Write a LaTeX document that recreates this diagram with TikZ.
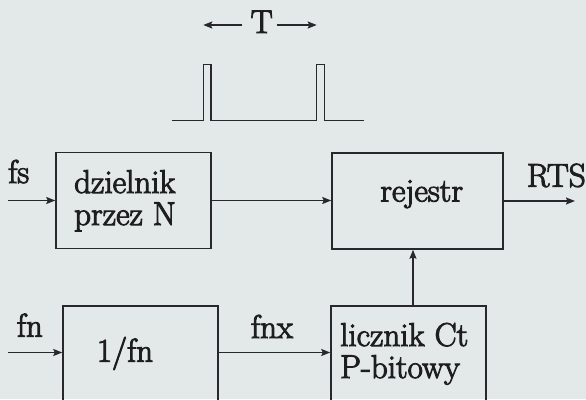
\documentclass[tikz,border=0pt]{standalone}
\usepackage{fontspec}
\setmainfont{Latin Modern Roman}[FakeBold=3]
\usetikzlibrary{arrows.meta}
\definecolor{paper}{RGB}{227,232,233}
\definecolor{ink}{RGB}{40,40,44}
\definecolor{type}{RGB}{30,30,32}

\begin{document}
\begin{tikzpicture}[x=1pt,y=-1pt,
  wire/.style={draw=ink, line width=1.5pt},
  arr/.style={wire, -{Stealth[length=9pt,width=7pt,inset=1.5pt]}},
  blk/.style={draw=ink, line width=1.5pt, rectangle, inner sep=0pt},
  txt/.style={text=type, font=\fontsize{33}{37}\selectfont, inner sep=0pt},
]
% paper and frame
\fill[paper] (0,0) rectangle (586,399);
\useasboundingbox (0,0) rectangle (586,399);
\clip (0,0) rectangle (586,399);

% pulse train with period T
\draw[wire, line join=miter] (171.7,120.7) -- (203.3,120.7) -- (203.3,64.3) -- (211,64.3)
  -- (211,120.7) -- (316.7,120.7) -- (316.7,64.3) -- (324.3,64.3) -- (324.3,120.7) -- (364,120.7);
\node[txt, anchor=base] (T) at (261.7,33) {T};
\coordinate (tl) at (203.3,25);
\coordinate (tr) at (316.7,25);
\draw[arr] (T.west |- tl) ++(-8,0) -- (tl);
\draw[arr] (T.east |- tr) ++(4,0) -- (tr);

% blocks
\node[blk, minimum width=155pt, minimum height=96pt] (dz) at (133.5,200.5) {};
\node[blk, minimum width=171pt, minimum height=96pt] (rej) at (417.5,201) {};
\node[blk, minimum width=155pt, minimum height=130pt] (inv) at (140.5,371) {};
\node[blk, minimum width=155pt, minimum height=130pt] (cnt) at (408.5,371) {};

% block texts
\node[txt, anchor=base west] (dz1) at (74,193) {dzielnik};
\node[txt, anchor=base west] (dz2) at (74,225) {przez N};
\node[txt, anchor=base] (rejt) at (421.7,201.5) {rejestr};
\node[txt, anchor=base] (invt) at (125,361.7) {1/fn};
\node[txt, anchor=base west] (cnt1) at (340,346) {licznik Ct};
\node[txt, anchor=base west] (cnt2) at (340,378) {P-bitowy};

% signals
\coordinate (fsin) at (8,200.5);
\coordinate (fnin) at (8,352.5);
\coordinate (rts) at (575,201);
\node[txt, anchor=base west] (fsl) at (8,183) {fs};
\node[txt, anchor=base west] (fnl) at (16.7,336.7) {fn};
\node[txt, anchor=base] (fnxl) at (272,338) {fnx};
\node[txt, anchor=base west] (rtsl) at (526.7,186.7) {RTS};

\draw[arr] (fsin) -- (dz.west);
\draw[arr] (dz.east) -- (rej.west |- dz.east);
\draw[arr] (rej.east) -- (rts);
\draw[arr] (fnin) -- (fnin -| inv.west);
\draw[arr] (inv.east |- fnin) -- (cnt.west |- fnin);
\coordinate (up) at ([xshift=4.5pt]cnt.north);
\draw[arr] (up) -- (up |- rej.south);
\end{tikzpicture}
\end{document}
